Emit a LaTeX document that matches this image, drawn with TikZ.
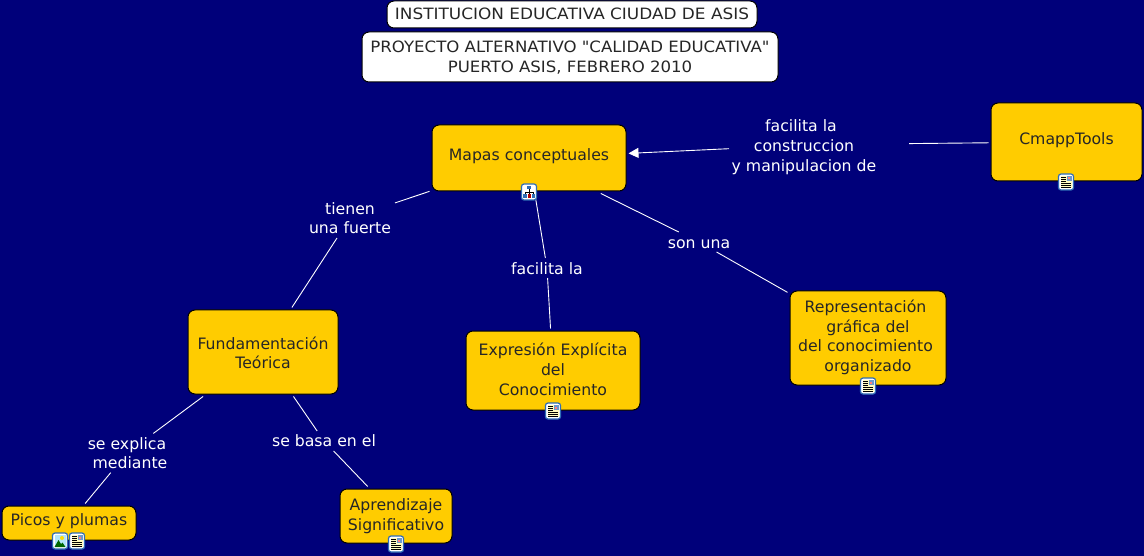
\documentclass[tikz,border=0pt]{standalone}
\usepackage{fontspec}
\setmainfont{DejaVu Sans}
\newfontfamily\capsfont[FakeStretch=1.083]{DejaVu Sans}
\newfontfamily\capsfontb[FakeStretch=1.062]{DejaVu Sans}
\usetikzlibrary{arrows.meta}
\definecolor{bgnavy}{HTML}{00007A}
\definecolor{boxgold}{HTML}{FFCC00}
\definecolor{iconblue}{HTML}{2F6DB5}
\newcommand{\lines}[2]{\raisebox{#1}[\height][\depth]{\begin{tabular}{@{}c@{}}#2\end{tabular}}}
\tikzset{
  x=1pt,y=-1pt,
  txt/.style={font=\fontsize{15.7}{19.6}\selectfont},
  concept/.style={draw=black,line width=1pt,fill=boxgold,rounded corners=7pt,txt,text=black!85,inner sep=0pt,outer sep=2.5pt,anchor=center},
  titlebox/.style={concept,fill=white,outer sep=0pt},
  linklabel/.style={txt,text=white,inner sep=0pt,outer sep=0pt,anchor=center},
  conn/.style={draw=white,line width=0.9pt},
  connarrow/.style={conn,-{Triangle[width=10pt,length=10pt]}},
  iconframe/.style={draw=iconblue,fill=white,line width=1.2pt,rounded corners=2.5pt},
}
\newcommand{\docicon}[1]{%
  \begin{scope}[shift={(#1)}]
    \draw[iconframe] (-7.5,-8) rectangle (7.5,8);
    \fill[yellow!25] (-5.5,-6) rectangle (5.5,6);
    \fill[iconblue!70] (0.5,-6) rectangle (5.5,-1);
    \fill[red!50] (2,-4.5) rectangle (4,-2.5);
    \foreach \yy in {-5,-3,-1} \draw[black,line width=0.8pt] (-5,\yy) -- (0,\yy);
    \foreach \yy in {1,3,5} \draw[black,line width=0.8pt] (-5,\yy) -- (5,\yy);
  \end{scope}}
\newcommand{\mapicon}[1]{%
  \begin{scope}[shift={(#1)}]
    \draw[iconframe] (-7.5,-8) rectangle (7.5,8);
    \draw[black,line width=0.6pt] (0,-3) -- (0,0) (-4,3) -- (-4,0) -- (4,0) -- (4,3) (0,0) -- (0,3);
    \fill[iconblue] (-2,-6) rectangle (2,-2.5);
    \fill[iconblue] (-6,2.5) rectangle (-2.5,6);
    \fill[red!70!black] (-1.5,2.5) rectangle (1.5,6);
    \fill[iconblue] (2.5,2.5) rectangle (6,6);
  \end{scope}}
\newcommand{\picicon}[1]{%
  \begin{scope}[shift={(#1)}]
    \draw[iconframe] (-7.5,-8) rectangle (7.5,8);
    \fill[cyan!30] (-5.5,-6) rectangle (5.5,6);
    \fill[yellow!80!orange] (2,-3) circle (2);
    \fill[green!40!black] (-5.5,6) -- (-1.5,-1) -- (1,3) -- (2.5,1.5) -- (5.5,6) -- cycle;
  \end{scope}}
\begin{document}
\begin{tikzpicture}
\useasboundingbox (0,0) rectangle (1144,556);
\fill[bgnavy] (0,0) rectangle (1144,556);
% link labels
\node[linklabel,minimum width=90pt,minimum height=40pt] (tienen) at (350,218) {\lines{-2pt}{tienen\\una fuerte}};
\node[linklabel,minimum width=70pt,minimum height=20pt] (facilita) at (547,268) {\lines{-3pt}{facilita la}};
\node[linklabel,minimum width=64pt,minimum height=20pt] (sonuna) at (699,242) {\lines{-3pt}{son una}};
\node[linklabel,minimum width=180pt,minimum height=58pt] (facilitala) at (819,144.5) {\lines{-3pt}{facilita la\hspace*{6pt}\\construccion\\y manipulacion de}\hspace*{30pt}};
\node[linklabel,minimum width=94pt,minimum height=38pt] (explica) at (127,453) {\lines{-2pt}{se explica\\\hspace*{6pt}mediante}};
\node[linklabel,minimum width=108pt,minimum height=20pt] (basa) at (324,441) {\lines{-2pt}{se basa en el}};
% concepts
\node[concept,minimum width=194pt,minimum height=66pt] (mapas) at (529,158) {\lines{1pt}{Mapas conceptuales}};
\node[concept,minimum width=151pt,minimum height=78pt] (cmapp) at (1066.5,142) {\lines{1pt}{CmappTools}};
\node[concept,minimum width=150pt,minimum height=84pt] (fund) at (263,352) {\lines{-3pt}{Fundamentación\\Teórica}};
\node[concept,minimum width=174pt,minimum height=79pt] (expr) at (553,370.5) {\lines{-1pt}{Expresión Explícita\\del\\Conocimiento}};
\node[concept,minimum width=156pt,minimum height=94pt] (repr) at (868,338) {\lines{0pt}{Representación\hspace*{5pt}\\gráfica del\\del conocimiento\hspace*{5pt}\\organizado}};
\node[concept,minimum width=134pt,minimum height=34pt] (picos) at (69,523) {\lines{1pt}{Picos y plumas}};
\node[concept,minimum width=112pt,minimum height=54pt] (apre) at (396,516) {\lines{-0.5pt}{Aprendizaje\\Significativo}};
% titles
\node[titlebox,font=\capsfont\fontsize{15.6}{19.6}\selectfont,minimum width=370pt,minimum height=27pt] (titulo) at (572,14.5) {\lines{-1pt}{INSTITUCION EDUCATIVA CIUDAD DE ASIS}};
\node[titlebox,font=\capsfontb\fontsize{15.6}{19.6}\selectfont,minimum width=416pt,minimum height=50pt] (proyecto) at (570,57) {\lines{-1.5pt}{PROYECTO ALTERNATIVO "CALIDAD EDUCATIVA"\\PUERTO ASIS, FEBRERO 2010}};
% connectors
\draw[conn] (mapas) -- (tienen);
\draw[conn] (tienen) -- (fund);
\draw[conn] (mapas) -- (facilita);
\draw[conn] (facilita) -- (expr);
\draw[conn] (mapas) -- (sonuna);
\draw[conn] (sonuna) -- (repr);
\draw[conn] (cmapp) -- (facilitala);
\draw[connarrow] (facilitala) -- (mapas);
\draw[conn] (fund) -- (explica);
\draw[conn] (explica) -- (picos);
\draw[conn] (fund) -- (basa);
\draw[conn] (basa) -- (apre);
% resource icons
\mapicon{529,192}
\docicon{1066,182}
\docicon{553,411}
\docicon{868,386}
\picicon{60,541}
\docicon{77,541}
\docicon{396,544}
\end{tikzpicture}
\end{document}
